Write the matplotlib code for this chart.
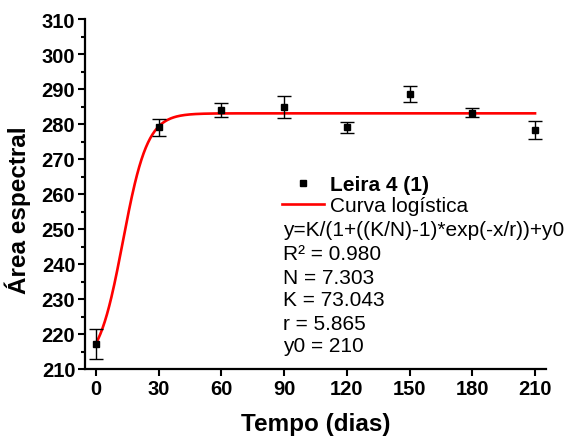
import numpy as np
import matplotlib
matplotlib.use("Agg")
import matplotlib.pyplot as plt
from matplotlib.lines import Line2D
from matplotlib.ticker import MultipleLocator

plt.rcParams['font.family'] = ['Liberation Sans', 'DejaVu Sans']

# Data
dias = [0, 30, 60, 90, 120, 150, 180, 210]
area = [217.1, 279.1, 284.0, 284.9, 279.1, 288.6, 283.2, 278.2]
erro = [4.3, 2.4, 2.1, 3.1, 1.6, 2.4, 1.3, 2.6]

# Logistic fit parameters (shown in chart)
K, N, r, y0 = 73.043, 7.303, 5.865, 210
R2 = 0.980

fig = plt.figure(figsize=(5.69, 4.39), dpi=100)
ax = fig.add_axes([85/569, 69/439, 461/569, 350/439])

ax.errorbar(dias, area, yerr=erro, fmt='s', color='black', ms=4.5,
            ecolor='black', elinewidth=1.0, capsize=4.7, capthick=1.0, zorder=3)

xf = np.linspace(0, 210, 600)
yf = K / (1 + ((K / N) - 1) * np.exp(-xf / r)) + y0
ax.plot(xf, yf, color='red', lw=1.9, zorder=2)

ax.set_xlim(-5.25, 215.25)
ax.set_ylim(210, 310)
ax.set_xticks(dias)
ax.yaxis.set_major_locator(MultipleLocator(10))
ax.yaxis.set_minor_locator(MultipleLocator(5))

for s in ['top', 'right']:
    ax.spines[s].set_visible(False)
for s in ['left', 'bottom']:
    ax.spines[s].set_linewidth(1.6)

ax.tick_params(axis='both', which='major', direction='out', length=5, width=1.5,
               labelsize=14.5, pad=2)
ax.tick_params(axis='y', which='minor', direction='out', length=3, width=1.5)
for lab in ax.get_xticklabels() + ax.get_yticklabels():
    lab.set_fontweight('bold')

ax.set_xlabel('Tempo (dias)', fontsize=17.5, fontweight='bold', labelpad=10)
fig.text(18/569, 1 - 210/439, 'Área espectral', rotation=90, fontsize=17.5,
         fontweight='bold', ha='center', va='center')

# Legend
h1 = Line2D([], [], ls='none', marker='s', ms=4, color='black')
h2 = Line2D([], [], color='red', lw=1.9)
leg = fig.legend([h1, h2], ['Leira 4 (1)', 'Curva logística'],
                 loc='upper left', bbox_to_anchor=(282/569, 1 - 176/439),
                 frameon=False, borderpad=0, borderaxespad=0, fontsize=15,
                 handlelength=2.0, handletextpad=0.3, labelspacing=0.12)
leg.get_texts()[0].set_fontweight('bold')

lines = ['y=K/(1+((K/N)-1)*exp(-x/r))+y0',
         f'R² = {R2:.3f}',
         f'N = {N:.3f}',
         f'K = {K:.3f}',
         f'r = {r:.3f}',
         f'y0 = {y0}']
ys = [231, 255, 279, 301, 324, 347]
for t, yy in zip(lines, ys):
    fig.text(283/569, 1 - yy/439, t, fontsize=15, ha='left', va='center')

fig.savefig('out.png', dpi=100)
